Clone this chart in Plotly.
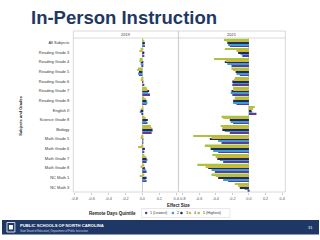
import plotly.graph_objects as go

categories = ["All Subjects", "Reading Grade 3", "Reading Grade 4", "Reading Grade 5",
              "Reading Grade 6", "Reading Grade 7", "Reading Grade 8", "English II",
              "Science Grade 8", "Biology", "Math Grade 5", "Math Grade 6",
              "Math Grade 7", "Math Grade 8", "NC Math 1", "NC Math 3"]
quintiles = ["1 (Lowest)", "2", "3", "4", "5 (Highest)"]
colors = ["#5f3b92", "#3a9bd5", "#1d2f55", "#d9b23a", "#a8c440"]
x_ticks = [-0.8, -0.6, -0.4, -0.2, 0.0, 0.2, 0.4]
x_tick_text = ["-0.8", "-0.6", "-0.4", "-0.2", "0.0", "0.2", "0.4"]

# Effect sizes, 2019
es2019_q1 = [0.03, 0.02, -0.01, -0.04, 0.02, 0.09, 0.05, -0.01, 0.06, 0.11, 0.01, 0.02, 0.05, 0.05, 0.05, None]
es2019_q2 = [0.025, 0.01, -0.02, -0.05, 0.00, 0.07, 0.06, -0.03, 0.05, 0.12, 0.01, 0.01, 0.06, 0.04, 0.04, None]
es2019_q3 = [0.03, 0.02, -0.02, -0.04, 0.01, 0.08, 0.05, -0.02, 0.065, 0.12, 0.005, 0.03, 0.05, 0.03, 0.05, None]
es2019_q4 = [0.02, -0.035, -0.035, -0.06, -0.02, 0.06, 0.04, -0.01, 0.04, 0.11, -0.02, -0.05, 0.04, -0.02, -0.03, None]
es2019_q5 = [0.01, -0.02, -0.03, -0.05, -0.01, 0.05, 0.02, 0.01, 0.02, 0.10, -0.01, -0.01, 0.02, 0.02, 0.02, None]

# Effect sizes, 2021
es2021_q1 = [-0.23, -0.08, -0.21, -0.11, -0.20, -0.20, -0.15, 0.09, -0.19, -0.23, -0.33, -0.37, -0.31, -0.41, -0.25, -0.01]
es2021_q2 = [-0.25, -0.10, -0.26, -0.15, -0.19, -0.22, -0.19, 0.04, -0.22, -0.29, -0.37, -0.43, -0.35, -0.45, -0.31, -0.05]
es2021_q3 = [-0.26, -0.13, -0.29, -0.16, -0.20, -0.21, -0.19, 0.03, -0.23, -0.32, -0.47, -0.46, -0.38, -0.49, -0.37, -0.11]
es2021_q4 = [-0.27, -0.15, -0.28, -0.19, -0.18, -0.19, -0.17, 0.05, -0.31, -0.32, -0.45, -0.47, -0.40, -0.52, -0.40, -0.13]
es2021_q5 = [-0.30, -0.29, -0.42, -0.21, -0.17, -0.19, -0.17, 0.07, -0.33, -0.34, -0.67, -0.53, -0.44, -0.62, -0.45, -0.17]

series_2019 = [es2019_q1, es2019_q2, es2019_q3, es2019_q4, es2019_q5]
series_2021 = [es2021_q1, es2021_q2, es2021_q3, es2021_q4, es2021_q5]

FONT = "Liberation Sans, Arial, sans-serif"
W, H = 320, 240

def px(x):
    return x / W

def py(y):
    return 1 - y / H

fig = go.Figure()
for xa, series in (("x", series_2019), ("x2", series_2021)):
    for name, col, vals in zip(quintiles, colors, series):
        fig.add_trace(go.Bar(y=categories, x=vals, orientation="h", name=name,
                             marker=dict(color=col, line=dict(width=0)),
                             xaxis=xa, yaxis="y", showlegend=False))

p1 = (px(72), px(178))
p2 = (px(178.3), px(286))
plot_y = (py(192), py(38))
strip_top = py(31)

axis_common = dict(tickvals=x_ticks, ticktext=x_tick_text,
                   tickfont=dict(size=3.8, color="#555", family=FONT), showgrid=False,
                   zeroline=True, zerolinecolor="#cfcfcf", zerolinewidth=0.6,
                   ticks="outside", ticklen=2, tickcolor="#cccccc", tickwidth=0.5,
                   showline=False, anchor="y", fixedrange=True)

fig.update_layout(
    width=W, height=H, margin=dict(l=0, r=0, t=0, b=0),
    paper_bgcolor="white", plot_bgcolor="white",
    barmode="group", bargap=0.15, bargroupgap=0,
    showlegend=False,
    font=dict(family=FONT),
    xaxis=dict(domain=list(p1), range=[-0.815, 0.425], **axis_common),
    xaxis2=dict(domain=list(p2), range=[-0.845, 0.437], **axis_common),
    yaxis=dict(domain=list(plot_y), categoryorder="array", categoryarray=categories[::-1],
               tickfont=dict(size=4, color="#333", family=FONT), showgrid=False,
               showline=False, zeroline=False, ticks="", ticklabelstandoff=3,
               anchor="x", fixedrange=True),
)

shapes = []
for (x0, x1) in (p1, p2):
    shapes.append(dict(type="rect", xref="paper", yref="paper", x0=x0, x1=x1,
                       y0=plot_y[0], y1=strip_top, line=dict(color="#c8c8c8", width=0.7)))
    shapes.append(dict(type="line", xref="paper", yref="paper", x0=x0, x1=x1,
                       y0=plot_y[1], y1=plot_y[1], line=dict(color="#c8c8c8", width=0.7)))

def ann(text, x, y, size, color, xanchor="center", **kw):
    return dict(text=text, x=px(x), y=py(y), xref="paper", yref="paper",
                xanchor=xanchor, yanchor="middle", showarrow=False,
                font=dict(size=size, color=color, family=FONT), **kw)

annotations = []
annotations.append(ann("<b>In-Person Instruction</b>", 27, 18, 18.5, "#1f3864", xanchor="left"))
annotations.append(ann("2019", 125, 34.5, 4, "#333"))
annotations.append(ann("2021", 232, 34.5, 4, "#333"))
annotations.append(ann("<b>Effect Size</b>", 178, 205.5, 4.5, "#222"))
annotations.append(ann("<b>Subjects and Grades</b>", 18, 115, 4, "#222", textangle=-90))

# manual legend
leg_y = 213
annotations.append(ann("<b>Remote Days Quintile</b>", 86, leg_y, 4.5, "#222", xanchor="left"))
shapes.append(dict(type="rect", xref="paper", yref="paper", x0=px(141), x1=px(230),
                   y0=py(217.5), y1=py(208.5), line=dict(color="#d8d8d8", width=0.6)))
dot_x = [145.5, 172.5, 181.2, 189.8, 198.6]
r = 1.3
for dx, col, name in zip(dot_x, colors, quintiles):
    shapes.append(dict(type="circle", xref="paper", yref="paper", x0=px(dx - r), x1=px(dx + r),
                       y0=py(leg_y + r), y1=py(leg_y - r), fillcolor=col, line=dict(width=0)))
    annotations.append(ann(name, dx + 2.2, leg_y, 3.7, "#333", xanchor="left"))

# footer band
shapes.append(dict(type="rect", xref="paper", yref="paper", x0=0, x1=1, y0=py(234.5), y1=py(220),
                   fillcolor="#1e3765", line=dict(width=0), layer="below"))
shapes.append(dict(type="rect", xref="paper", yref="paper", x0=px(5), x1=px(13), y0=py(232),
                   y1=py(222.5), fillcolor="#1e3765", line=dict(color="white", width=0.8)))
shapes.append(dict(type="rect", xref="paper", yref="paper", x0=px(7), x1=px(11), y0=py(229.5),
                   y1=py(225), fillcolor="white", line=dict(width=0)))
annotations.append(ann("<b>PUBLIC SCHOOLS OF NORTH CAROLINA</b>", 16, 225.5, 4.2, "white", xanchor="left"))
annotations.append(ann("State Board of Education | Department of Public Instruction", 16, 230.5,
                       2.6, "#c9d4ea", xanchor="left"))
annotations.append(ann("31", 311, 227, 4, "white"))

fig.update_layout(shapes=shapes, annotations=annotations)
fig.write_html("out.html")
